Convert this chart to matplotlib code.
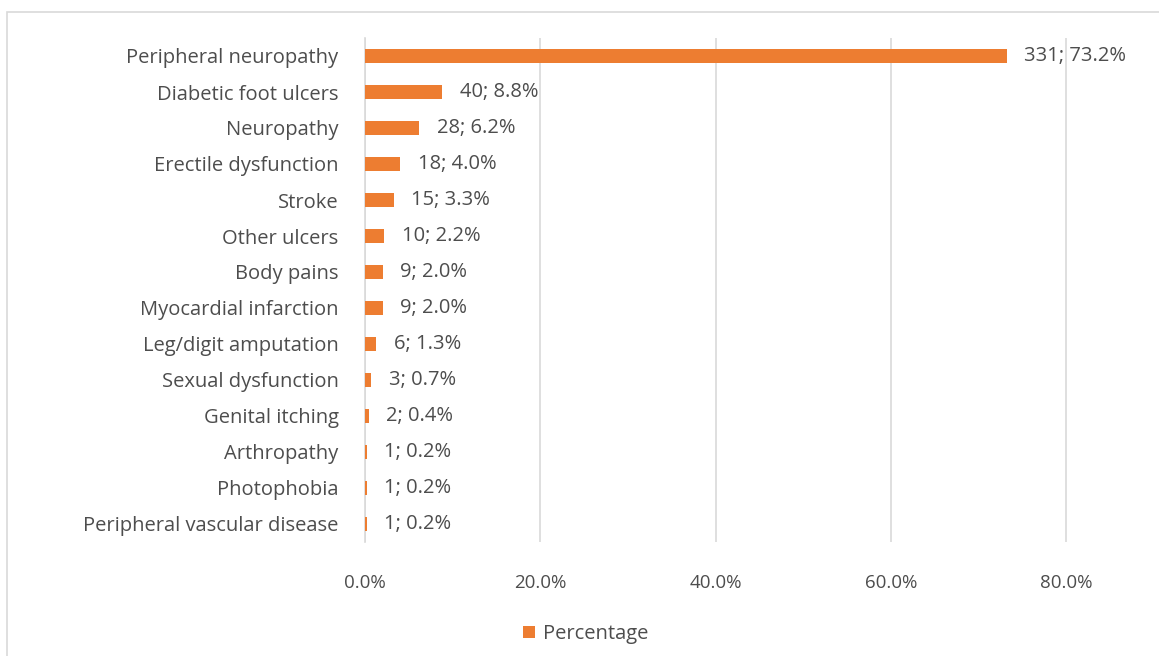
import matplotlib.pyplot as plt
from matplotlib.patches import Rectangle
import numpy as np

# data (top to bottom)
conditions = ["Peripheral neuropathy", "Diabetic foot ulcers", "Neuropathy",
              "Erectile dysfunction", "Stroke", "Other ulcers", "Body pains",
              "Myocardial infarction", "Leg/digit amputation", "Sexual dysfunction",
              "Genital itching", "Arthropathy", "Photophobia",
              "Peripheral vascular disease"]
counts = [331, 40, 28, 18, 15, 10, 9, 9, 6, 3, 2, 1, 1, 1]
percent = [73.2, 8.8, 6.2, 4.0, 3.3, 2.2, 2.0, 2.0, 1.3, 0.7, 0.4, 0.2, 0.2, 0.2]
xticks = [0, 20, 40, 60, 80]

plt.rcParams['font.family'] = ['Open Sans', 'DejaVu Sans']
txt = '#4d4d4d'
orange = '#ED7D31'

fig = plt.figure(figsize=(11.59, 6.56), dpi=100)
# light frame around the chart area
fig.patches.append(Rectangle((7 / 1159, -0.1), 1.2, 1.1 - 12 / 656, transform=fig.transFigure,
                             fill=False, edgecolor='#d9d9d9', linewidth=1.2))

ax = fig.add_axes([365 / 1159, 1 - 542 / 656, (1154 - 365) / 1159, 504 / 656])
y = np.arange(len(conditions))
ax.barh(y, percent, height=0.4, color=orange, zorder=3, label='Percentage')
for yi, c, p in zip(y, counts, percent):
    ax.text(p + 2.0, yi, f"{c}; {p:.1f}%", va='center', ha='left',
            fontsize=14.5, color=txt)

ax.set_ylim(len(conditions) - 0.5, -0.5)
ax.set_xlim(0, 90)
ax.set_yticks(y)
ax.set_yticklabels(conditions, fontsize=14.5, color=txt)
ax.set_xticks(xticks)
ax.set_xticklabels([f"{v:.1f}%" for v in xticks], fontsize=13.5, color=txt)
ax.tick_params(axis='both', length=0)
ax.tick_params(axis='y', pad=19)
ax.tick_params(axis='x', pad=23)
ax.grid(axis='x', color='#d9d9d9', linewidth=1.2, zorder=0)
for s in ['top', 'right', 'bottom']:
    ax.spines[s].set_visible(False)
ax.spines['left'].set_color('#d9d9d9')
ax.spines['left'].set_linewidth(1.2)

leg = fig.legend(loc='center', bbox_to_anchor=(586 / 1159, 1 - 634 / 656), frameon=False,
                 fontsize=14.5, handlelength=0.6, handleheight=0.6, handletextpad=0.4)
for t in leg.get_texts():
    t.set_color(txt)

fig.savefig('out.png', dpi=100, facecolor='white')
